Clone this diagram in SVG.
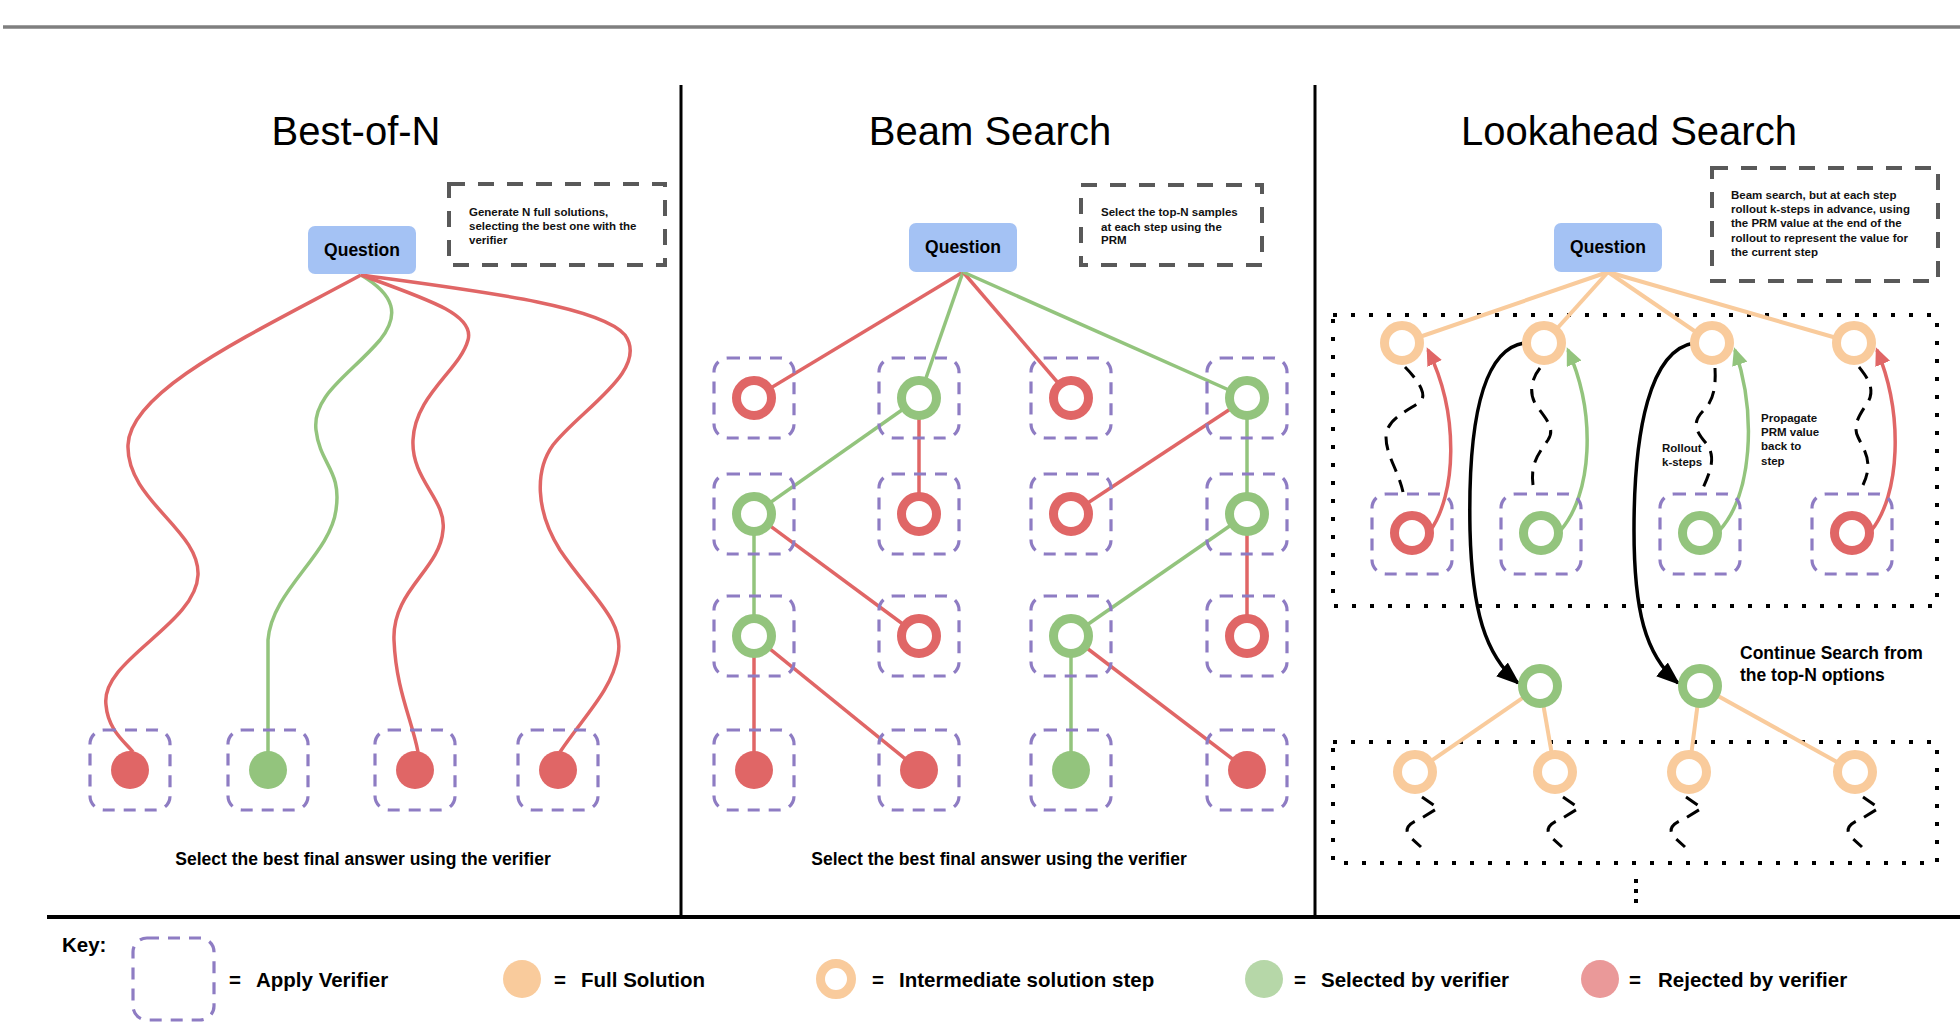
<svg xmlns="http://www.w3.org/2000/svg" width="1960" height="1024" viewBox="0 0 1960 1024">
<defs>
<style>
.t{font-family:"Liberation Sans",Arial,sans-serif;fill:#000}
.title{font-size:40px}
.q{font-size:17.5px;font-weight:bold}
.note{font-size:11.5px;font-weight:bold;fill:#111}
.lbl{font-size:17.5px;font-weight:bold}
.key{font-size:20.5px;font-weight:bold}
.qbox{fill:#a4c2f4}
.nbox{fill:none;stroke:#595959;stroke-width:4;stroke-dasharray:16 13}
.vbox{fill:none;stroke:#8e7cc3;stroke-width:3.2;stroke-dasharray:12 9}
.dot{fill:none;stroke:#000;stroke-width:4;stroke-dasharray:4 14}
.ring{fill:#fff;stroke-width:9}
.rr{stroke:#e06666}.rg{stroke:#93c47d}.ro{stroke:#f9cb9c}
.fr{fill:#e06666}.fg{fill:#93c47d}
.er{stroke:#e06666;stroke-width:3.5;fill:none}
.eg{stroke:#93c47d;stroke-width:3.5;fill:none}
.eo{stroke:#f9cb9c;stroke-width:4;fill:none}
.wav{stroke:#000;stroke-width:3;fill:none;stroke-dasharray:14 9}
.blk{stroke:#000;stroke-width:3.5;fill:none}
</style>
<marker id="mr" markerUnits="userSpaceOnUse" viewBox="0 0 18 16" markerWidth="18" markerHeight="16" refX="15" refY="8" orient="auto"><path d="M0,0 L18,8 L0,16 z" fill="#e06666"/></marker>
<marker id="mg" markerUnits="userSpaceOnUse" viewBox="0 0 18 16" markerWidth="18" markerHeight="16" refX="15" refY="8" orient="auto"><path d="M0,0 L18,8 L0,16 z" fill="#93c47d"/></marker>
<marker id="mk" markerUnits="userSpaceOnUse" viewBox="0 0 24 18" markerWidth="24" markerHeight="18" refX="21" refY="9" orient="auto"><path d="M0,0 L24,9 L0,18 z" fill="#000"/></marker>
</defs>
<rect width="1960" height="1024" fill="#fff"/>

<g id="frame">
<line x1="3" y1="27" x2="1960" y2="27" stroke="#7f7f7f" stroke-width="3.5"/>
<line x1="681" y1="85" x2="681" y2="917" stroke="#000" stroke-width="3"/>
<line x1="1315" y1="85" x2="1315" y2="917" stroke="#000" stroke-width="3"/>
<line x1="47" y1="917" x2="1960" y2="917" stroke="#000" stroke-width="4"/>
</g>

<g id="titles">
<text class="t title" x="356" y="145" text-anchor="middle">Best-of-N</text>
<text class="t title" x="990" y="145" text-anchor="middle">Beam Search</text>
<text class="t title" x="1629" y="145" text-anchor="middle">Lookahead Search</text>
</g>

<!-- ============ Best-of-N ============ -->
<g id="connectors-bon">
<path class="er" d="M361,275 C250,335 130,390 128,445 C126,500 200,530 198,575 C196,625 100,660 106,705 C108,730 125,742 133,752"/>
<path class="eg" d="M361,275 C395,295 400,315 380,340 C350,375 312,395 316,430 C320,465 342,470 336,510 C330,555 272,590 268,640 L268,752"/>
<path class="er" d="M361,275 C430,300 475,315 468,340 C460,370 415,395 413,440 C411,480 447,500 443,530 C440,570 392,590 394,640 C396,690 412,720 418,752"/>
<path class="er" d="M361,275 C470,290 600,305 625,335 C650,370 580,410 553,445 C535,470 535,510 560,550 C590,595 625,620 618,655 C612,690 585,715 560,752"/>
</g>
<g id="bon-question"><rect class="qbox" x="308" y="226" width="108" height="48" rx="7"/><text class="t q" x="362" y="256" text-anchor="middle">Question</text></g>
<g id="bon-note"><rect class="nbox" x="449" y="184" width="216" height="81"/>
<text class="t note" x="469" y="216">Generate N full solutions,</text>
<text class="t note" x="469" y="230">selecting the best one with the</text>
<text class="t note" x="469" y="244">verifier</text></g>
<g id="bon-leaf1"><rect class="vbox" x="90" y="730" width="80" height="80" rx="14"/><circle class="fr" cx="130" cy="770" r="19"/></g>
<g id="bon-leaf2"><rect class="vbox" x="228" y="730" width="80" height="80" rx="14"/><circle class="fg" cx="268" cy="770" r="19"/></g>
<g id="bon-leaf3"><rect class="vbox" x="375" y="730" width="80" height="80" rx="14"/><circle class="fr" cx="415" cy="770" r="19"/></g>
<g id="bon-leaf4"><rect class="vbox" x="518" y="730" width="80" height="80" rx="14"/><circle class="fr" cx="558" cy="770" r="19"/></g>
<text class="t lbl" x="363" y="865" text-anchor="middle">Select the best final answer using the verifier</text>

<!-- ============ Beam Search ============ -->
<g id="connectors-beam">
<line class="er" x1="963" y1="272" x2="754" y2="398"/>
<line class="eg" x1="963" y1="272" x2="919" y2="398"/>
<line class="er" x1="963" y1="272" x2="1071" y2="398"/>
<line class="eg" x1="963" y1="272" x2="1247" y2="398"/>
<line class="eg" x1="919" y1="398" x2="754" y2="514"/>
<line class="er" x1="919" y1="398" x2="919" y2="514"/>
<line class="er" x1="1247" y1="398" x2="1071" y2="514"/>
<line class="eg" x1="1247" y1="398" x2="1247" y2="514"/>
<line class="eg" x1="754" y1="514" x2="754" y2="636"/>
<line class="er" x1="754" y1="514" x2="919" y2="636"/>
<line class="eg" x1="1247" y1="514" x2="1071" y2="636"/>
<line class="er" x1="1247" y1="514" x2="1247" y2="636"/>
<line class="er" x1="754" y1="636" x2="754" y2="770"/>
<line class="er" x1="754" y1="636" x2="919" y2="770"/>
<line class="eg" x1="1071" y1="636" x2="1071" y2="770"/>
<line class="er" x1="1071" y1="636" x2="1247" y2="770"/>
</g>
<g id="beam-question"><rect class="qbox" x="909" y="223" width="108" height="49" rx="7"/><text class="t q" x="963" y="253" text-anchor="middle">Question</text></g>
<g id="beam-note"><rect class="nbox" x="1081" y="185" width="181" height="80"/>
<text class="t note" x="1101" y="216">Select the top-N samples</text>
<text class="t note" x="1101" y="231">at each step using the</text>
<text class="t note" x="1101" y="244">PRM</text></g>
<g id="beam-r1c1"><rect class="vbox" x="714" y="358" width="80" height="80" rx="14"/><circle class="ring rr" cx="754" cy="398" r="17.5"/></g>
<g id="beam-r1c2"><rect class="vbox" x="879" y="358" width="80" height="80" rx="14"/><circle class="ring rg" cx="919" cy="398" r="17.5"/></g>
<g id="beam-r1c3"><rect class="vbox" x="1031" y="358" width="80" height="80" rx="14"/><circle class="ring rr" cx="1071" cy="398" r="17.5"/></g>
<g id="beam-r1c4"><rect class="vbox" x="1207" y="358" width="80" height="80" rx="14"/><circle class="ring rg" cx="1247" cy="398" r="17.5"/></g>
<g id="beam-r2c1"><rect class="vbox" x="714" y="474" width="80" height="80" rx="14"/><circle class="ring rg" cx="754" cy="514" r="17.5"/></g>
<g id="beam-r2c2"><rect class="vbox" x="879" y="474" width="80" height="80" rx="14"/><circle class="ring rr" cx="919" cy="514" r="17.5"/></g>
<g id="beam-r2c3"><rect class="vbox" x="1031" y="474" width="80" height="80" rx="14"/><circle class="ring rr" cx="1071" cy="514" r="17.5"/></g>
<g id="beam-r2c4"><rect class="vbox" x="1207" y="474" width="80" height="80" rx="14"/><circle class="ring rg" cx="1247" cy="514" r="17.5"/></g>
<g id="beam-r3c1"><rect class="vbox" x="714" y="596" width="80" height="80" rx="14"/><circle class="ring rg" cx="754" cy="636" r="17.5"/></g>
<g id="beam-r3c2"><rect class="vbox" x="879" y="596" width="80" height="80" rx="14"/><circle class="ring rr" cx="919" cy="636" r="17.5"/></g>
<g id="beam-r3c3"><rect class="vbox" x="1031" y="596" width="80" height="80" rx="14"/><circle class="ring rg" cx="1071" cy="636" r="17.5"/></g>
<g id="beam-r3c4"><rect class="vbox" x="1207" y="596" width="80" height="80" rx="14"/><circle class="ring rr" cx="1247" cy="636" r="17.5"/></g>
<g id="beam-r4c1"><rect class="vbox" x="714" y="730" width="80" height="80" rx="14"/><circle class="fr" cx="754" cy="770" r="19"/></g>
<g id="beam-r4c2"><rect class="vbox" x="879" y="730" width="80" height="80" rx="14"/><circle class="fr" cx="919" cy="770" r="19"/></g>
<g id="beam-r4c3"><rect class="vbox" x="1031" y="730" width="80" height="80" rx="14"/><circle class="fg" cx="1071" cy="770" r="19"/></g>
<g id="beam-r4c4"><rect class="vbox" x="1207" y="730" width="80" height="80" rx="14"/><circle class="fr" cx="1247" cy="770" r="19"/></g>
<text class="t lbl" x="999" y="865" text-anchor="middle">Select the best final answer using the verifier</text>

<!-- ============ Lookahead Search ============ -->
<g id="lookahead-regions">
<rect class="dot" x="1333" y="315" width="604" height="291"/>
<rect class="dot" x="1333" y="742" width="604" height="121"/>
</g>
<g id="connectors-lookahead">
<line class="eo" x1="1608" y1="272" x2="1402" y2="343"/>
<line class="eo" x1="1608" y1="272" x2="1544" y2="343"/>
<line class="eo" x1="1608" y1="272" x2="1712" y2="343"/>
<line class="eo" x1="1608" y1="272" x2="1854" y2="343"/>
<path class="wav" d="M1405,367 C1418,380 1428,395 1420,402 C1405,412 1386,420 1386,437 C1386,455 1398,470 1403,492"/>
<path class="wav" d="M1540,368 C1532,378 1528,392 1536,405 C1545,418 1556,428 1548,440 C1540,452 1530,462 1533,485"/>
<path class="wav" d="M1715,368 C1716,385 1714,400 1704,410 C1692,422 1695,430 1705,442 C1716,455 1712,468 1703,488"/>
<path class="wav" d="M1859,367 C1866,376 1876,388 1868,402 C1860,414 1852,425 1858,437 C1864,450 1874,462 1863,485"/>
<path class="er" stroke-width="3" marker-end="url(#mr)" d="M1430,531 C1456,495 1460,415 1428,350"/>
<path class="eg" stroke-width="3" marker-end="url(#mg)" d="M1560,531 C1592,495 1597,415 1568,350"/>
<path class="eg" stroke-width="3" marker-end="url(#mg)" d="M1719,531 C1752,495 1757,415 1735,350"/>
<path class="er" stroke-width="3" marker-end="url(#mr)" d="M1871,531 C1900,495 1904,415 1877,350"/>
<path class="blk" marker-end="url(#mk)" d="M1524,343 C1480,350 1468,430 1470,530 C1472,610 1485,655 1518,683"/>
<path class="blk" marker-end="url(#mk)" d="M1694,343 C1650,350 1634,430 1634,530 C1634,610 1645,655 1678,683"/>
<line class="eo" stroke-width="3" x1="1540" y1="686" x2="1415" y2="772"/>
<line class="eo" stroke-width="3" x1="1540" y1="686" x2="1555" y2="772"/>
<line class="eo" stroke-width="3" x1="1700" y1="686" x2="1689" y2="772"/>
<line class="eo" stroke-width="3" x1="1700" y1="686" x2="1855" y2="772"/>
<path class="wav" d="M1422,797 L1438,808 L1420,819 Q1402,826 1409,836 L1421,847"/>
<path class="wav" d="M1563,797 L1579,808 L1561,819 Q1543,826 1550,836 L1562,847"/>
<path class="wav" d="M1686,797 L1702,808 L1684,819 Q1666,826 1673,836 L1685,847"/>
<path class="wav" d="M1863,797 L1879,808 L1861,819 Q1843,826 1850,836 L1862,847"/>
</g>
<g id="la-question"><rect class="qbox" x="1554" y="223" width="108" height="49" rx="7"/><text class="t q" x="1608" y="253" text-anchor="middle">Question</text></g>
<g id="la-note"><rect class="nbox" x="1712" y="168" width="226" height="113"/>
<text class="t note" x="1731" y="199">Beam search, but at each step</text>
<text class="t note" x="1731" y="213">rollout k-steps in advance, using</text>
<text class="t note" x="1731" y="227">the PRM value at the end of the</text>
<text class="t note" x="1731" y="242">rollout to represent the value for</text>
<text class="t note" x="1731" y="256">the current step</text></g>
<g id="la-s1"><circle class="ring ro" cx="1402" cy="343" r="17.5"/></g>
<g id="la-s2"><circle class="ring ro" cx="1544" cy="343" r="17.5"/></g>
<g id="la-s3"><circle class="ring ro" cx="1712" cy="343" r="17.5"/></g>
<g id="la-s4"><circle class="ring ro" cx="1854" cy="343" r="17.5"/></g>
<g id="la-r1"><rect class="vbox" x="1372" y="494" width="80" height="80" rx="14"/><circle class="ring rr" cx="1412" cy="533" r="17.5"/></g>
<g id="la-r2"><rect class="vbox" x="1501" y="494" width="80" height="80" rx="14"/><circle class="ring rg" cx="1541" cy="533" r="17.5"/></g>
<g id="la-r3"><rect class="vbox" x="1660" y="494" width="80" height="80" rx="14"/><circle class="ring rg" cx="1700" cy="533" r="17.5"/></g>
<g id="la-r4"><rect class="vbox" x="1812" y="494" width="80" height="80" rx="14"/><circle class="ring rr" cx="1852" cy="533" r="17.5"/></g>
<g id="la-rollout-label"><text class="t note" x="1662" y="452">Rollout</text><text class="t note" x="1662" y="466">k-steps</text></g>
<g id="la-propagate-label"><text class="t note" x="1761" y="422">Propagate</text><text class="t note" x="1761" y="436">PRM value</text><text class="t note" x="1761" y="450">back to</text><text class="t note" x="1761" y="465">step</text></g>
<g id="la-sel1"><circle class="ring rg" cx="1540" cy="686" r="17.5"/></g>
<g id="la-sel2"><circle class="ring rg" cx="1700" cy="686" r="17.5"/></g>
<g id="la-continue-label"><text class="t lbl" x="1740" y="659">Continue Search from</text><text class="t lbl" x="1740" y="681">the top-N options</text></g>
<g id="la-n1"><circle class="ring ro" cx="1415" cy="772" r="17.5"/></g>
<g id="la-n2"><circle class="ring ro" cx="1555" cy="772" r="17.5"/></g>
<g id="la-n3"><circle class="ring ro" cx="1689" cy="772" r="17.5"/></g>
<g id="la-n4"><circle class="ring ro" cx="1855" cy="772" r="17.5"/></g>
<g id="la-more"><rect x="1634" y="879" width="4" height="4"/><rect x="1634" y="889" width="4" height="4"/><rect x="1634" y="899" width="4" height="4"/></g>

<!-- ============ Key ============ -->
<g id="key">
<text class="t key" x="62" y="952">Key:</text>
<rect class="vbox" x="133" y="938" width="81" height="82" rx="14"/>
<text class="t key" x="229" y="987">=</text><text class="t key" x="256" y="987">Apply Verifier</text>
<circle cx="522" cy="979" r="19" fill="#f9cb9c"/>
<text class="t key" x="554" y="987">=</text><text class="t key" x="581" y="987">Full Solution</text>
<circle class="ring ro" cx="836" cy="979" r="15.5"/>
<text class="t key" x="872" y="987">=</text><text class="t key" x="899" y="987">Intermediate solution step</text>
<circle cx="1264" cy="979" r="19" fill="#b6d7a8"/>
<text class="t key" x="1294" y="987">=</text><text class="t key" x="1321" y="987">Selected by verifier</text>
<circle cx="1600" cy="979" r="19" fill="#ea9999"/>
<text class="t key" x="1629" y="987">=</text><text class="t key" x="1658" y="987">Rejected by verifier</text>
</g>
</svg>
